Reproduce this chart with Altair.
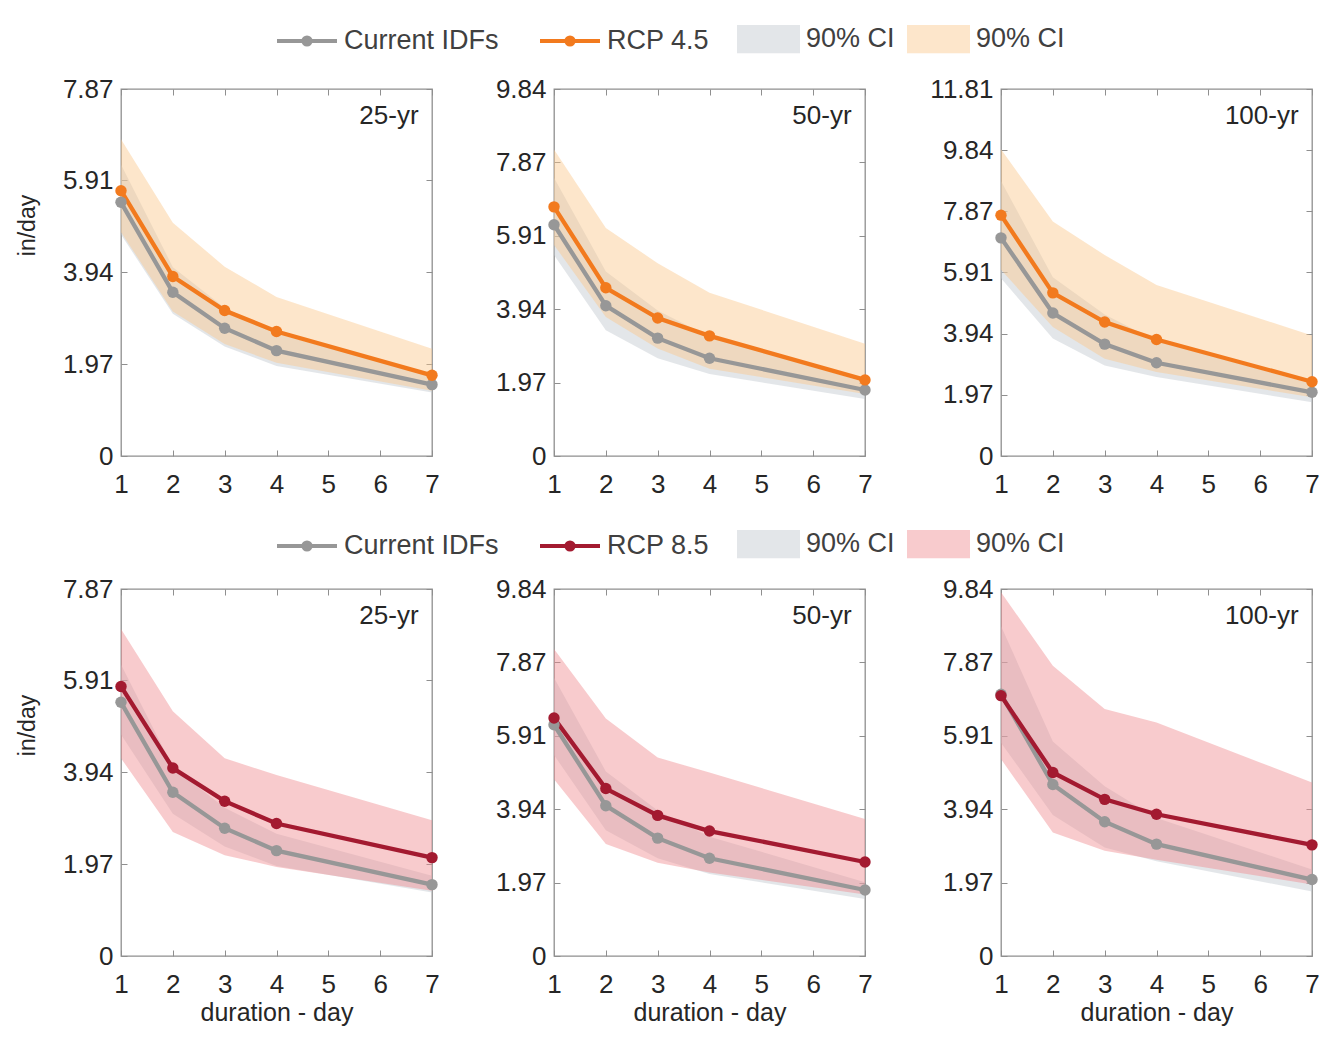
import altair as alt
import pandas as pd

# ---------------- data ----------------
durations = [1, 2, 3, 4, 7]

# Current IDFs (in/day) and 90% CI
cur_25 = [5.44, 3.51, 2.74, 2.26, 1.53]
cur_25_lo = [4.75, 3.05, 2.35, 1.93, 1.36]
cur_25_hi = [6.25, 4.05, 3.18, 2.62, 1.72]
cur_50 = [6.20, 4.03, 3.16, 2.62, 1.77]
cur_50_lo = [5.39, 3.37, 2.62, 2.20, 1.53]
cur_50_hi = [7.46, 4.95, 3.90, 3.20, 1.98]
cur_100 = [7.02, 4.60, 3.60, 3.00, 2.05]
cur_100_lo = [5.72, 3.78, 2.91, 2.54, 1.73]
cur_100_hi = [8.85, 5.75, 4.55, 3.70, 2.32]

# RCP 4.5
rcp45_25 = [5.69, 3.85, 3.12, 2.67, 1.73]
rcp45_25_lo = [4.80, 3.10, 2.40, 2.00, 1.40]
rcp45_25_hi = [6.79, 5.00, 4.06, 3.41, 2.30]
rcp45_50 = [6.68, 4.51, 3.70, 3.22, 2.04]
rcp45_50_lo = [5.66, 3.73, 2.88, 2.34, 1.66]
rcp45_50_hi = [8.22, 6.11, 5.17, 4.38, 3.01]
rcp45_100 = [7.75, 5.25, 4.31, 3.75, 2.39]
rcp45_100_lo = [5.99, 4.15, 3.13, 2.70, 1.89]
rcp45_100_hi = [9.87, 7.55, 6.47, 5.50, 3.88]

# RCP 8.5
rcp85_25 = [5.78, 4.03, 3.32, 2.84, 2.11]
rcp85_25_lo = [4.24, 2.66, 2.16, 1.91, 1.40]
rcp85_25_hi = [7.01, 5.25, 4.24, 3.88, 2.91]
rcp85_50 = [6.38, 4.49, 3.77, 3.35, 2.52]
rcp85_50_lo = [4.74, 3.00, 2.50, 2.24, 1.65]
rcp85_50_hi = [8.23, 6.37, 5.32, 4.92, 3.67]
rcp85_100 = [6.98, 4.92, 4.20, 3.80, 2.98]
rcp85_100_lo = [5.28, 3.31, 2.82, 2.58, 1.92]
rcp85_100_hi = [9.75, 7.78, 6.62, 6.26, 4.65]

x_ticks = [1, 2, 3, 4, 5, 6, 7]
y_ticks_25 = [0, 1.97, 3.94, 5.91, 7.87]
y_ticks_50 = [0, 1.97, 3.94, 5.91, 7.87, 9.84]
y_ticks_100 = [0, 1.97, 3.94, 5.91, 7.87, 9.84, 11.81]

# ---------------- styles ----------------
FONT = "Liberation Sans"
TXT = "#262626"
LEG_TXT = "#404040"
FRAME = "#8f8f8f"
GRAY_LINE = "#979797"
ORANGE = "#f27a1e"
RED = "#a31a30"
GRAY_BAND = "#c1c7ce"
ORANGE_BAND = "#fac88c"
RED_BAND = "#f08c91"
BAND_OP = 0.45
W, H = 311, 367

LINE_SYM = "M-1,0L1,0M-0.12,0A0.12,0.12,0,1,1,0.12,0A0.12,0.12,0,1,1,-0.12,0Z"
RECT_SYM = "M-1,-0.45L1,-0.45L1,0.45L-1,0.45Z"

LABEL_EXPR = "datum.value == 0 ? '0' : format(datum.value, '.2f')"


def make_legends(center):
    line_legend = alt.Legend(
        orient="none", legendX=154, legendY=center - 30, direction="horizontal",
        title=None, symbolType=LINE_SYM, symbolSize=3600, symbolStrokeWidth=4,
        labelFontSize=27, labelFont=FONT, labelColor=LEG_TXT, labelOffset=5,
        columnPadding=33, symbolOpacity=1,
    )
    fill_legend = alt.Legend(
        orient="none", legendX=616, legendY=center - 31.5, direction="horizontal",
        title=None, symbolType=RECT_SYM, symbolSize=3969, symbolStrokeWidth=0,
        labelFontSize=27, labelFont=FONT, labelColor=LEG_TXT, labelOffset=6,
        columnPadding=12, symbolOpacity=BAND_OP, labelExpr="'90% CI'",
    )
    return line_legend, fill_legend


def inner_axis(orient, values, extent):
    return alt.Axis(
        orient=orient, offset=-extent, values=values, labels=False, domain=False,
        grid=False, ticks=True, tickSize=6, tickColor=FRAME, tickWidth=1,
        minExtent=0, title=None,
    )


def panel(cur, cur_lo, cur_hi, fut, fut_lo, fut_hi, rcp, line_col, band_col,
          ymax, yticks, title, first_col, bottom_row, y_ext, legends):
    line_legend, fill_legend = legends
    df = pd.DataFrame({
        "d": durations, "cur": cur, "cur_lo": cur_lo, "cur_hi": cur_hi,
        "fut": fut, "fut_lo": fut_lo, "fut_hi": fut_hi,
    })
    base = alt.Chart(df).transform_calculate(
        cs="'Current IDFs'", fs="'" + rcp + "'", cb="'cur'", fb="'fut'"
    )
    xsc = alt.Scale(domain=[1, 7], nice=False, zero=False)
    ysc = alt.Scale(domain=[0, ymax], nice=False, zero=False)
    color_scale = alt.Scale(domain=["Current IDFs", rcp], range=[GRAY_LINE, line_col])
    fill_scale = alt.Scale(domain=["cur", "fut"], range=[GRAY_BAND, band_col])

    x_lab = alt.Axis(
        values=x_ticks, ticks=False, tickSize=0, domain=False, grid=False,
        labelPadding=15, labelFontSize=26, labelFont=FONT, labelColor=TXT,
        labelFlush=False, titleFontSize=25, titleFont=FONT,
        titleFontWeight="normal", titleColor=TXT, titlePadding=3,
    )
    y_lab = alt.Axis(
        values=yticks, ticks=False, tickSize=0, domain=False, grid=False,
        labelPadding=8, labelFontSize=26, labelFont=FONT, labelColor=TXT,
        labelFlush=False, labelExpr=LABEL_EXPR, minExtent=y_ext,
        titleFontSize=23, titleFont=FONT, titleFontWeight="normal",
        titleColor=TXT, titlePadding=23, titleY=136,
    )
    x_title = "duration - day" if bottom_row else None
    y_title = "in/day" if first_col else None

    gray_area = base.mark_area(opacity=BAND_OP).encode(
        x=alt.X("d:Q", scale=xsc, axis=x_lab, title=x_title),
        y=alt.Y("cur_lo:Q", scale=ysc, axis=y_lab, title=y_title),
        y2="cur_hi:Q",
        fill=alt.Fill("cb:N", scale=fill_scale, legend=fill_legend),
    )
    fut_area = base.mark_area(opacity=BAND_OP).encode(
        x=alt.X("d:Q", scale=xsc, axis=inner_axis("top", x_ticks, H)),
        y=alt.Y("fut_lo:Q", scale=ysc, axis=inner_axis("right", yticks, W)),
        y2="fut_hi:Q",
        fill=alt.Fill("fb:N", scale=fill_scale, legend=fill_legend),
    )
    gray_line = base.mark_line(strokeWidth=4.3).encode(
        x=alt.X("d:Q", scale=xsc, axis=inner_axis("bottom", x_ticks, H)),
        y=alt.Y("cur:Q", scale=ysc, axis=inner_axis("left", yticks, W)),
        color=alt.Color("cs:N", scale=color_scale, legend=line_legend),
    )
    fut_line = base.mark_line(strokeWidth=4.3).encode(
        x=alt.X("d:Q", scale=xsc, axis=None),
        y=alt.Y("fut:Q", scale=ysc, axis=None),
        color=alt.Color("fs:N", scale=color_scale, legend=line_legend),
    )
    gray_pts = base.mark_circle(size=130, opacity=1).encode(
        x=alt.X("d:Q", scale=xsc, axis=None),
        y=alt.Y("cur:Q", scale=ysc, axis=None),
        color=alt.Color("cs:N", scale=color_scale, legend=line_legend),
    )
    fut_pts = base.mark_circle(size=130, opacity=1).encode(
        x=alt.X("d:Q", scale=xsc, axis=None),
        y=alt.Y("fut:Q", scale=ysc, axis=None),
        color=alt.Color("fs:N", scale=color_scale, legend=line_legend),
    )
    return alt.layer(
        gray_area, fut_area, gray_line, fut_line, gray_pts, fut_pts
    ).resolve_axis(x="independent", y="independent").properties(
        width=W, height=H,
        title=alt.TitleParams(
            text=title, anchor="end", orient="top", offset=-53, dx=-22,
            fontSize=26, font=FONT, fontWeight="normal", color=TXT,
        ),
    )


leg1 = make_legends(-50)
row1 = alt.hconcat(
    panel(cur_25, cur_25_lo, cur_25_hi, rcp45_25, rcp45_25_lo, rcp45_25_hi,
          "RCP 4.5", ORANGE, ORANGE_BAND, 7.87, y_ticks_25, "25-yr", True, False, 59, leg1),
    panel(cur_50, cur_50_lo, cur_50_hi, rcp45_50, rcp45_50_lo, rcp45_50_hi,
          "RCP 4.5", ORANGE, ORANGE_BAND, 9.84, y_ticks_50, "50-yr", False, False, 59, leg1),
    panel(cur_100, cur_100_lo, cur_100_hi, rcp45_100, rcp45_100_lo, rcp45_100_hi,
          "RCP 4.5", ORANGE, ORANGE_BAND, 11.81, y_ticks_100, "100-yr", False, False, 73, leg1),
    spacing=52,
)

leg2 = make_legends(-45)
row2 = alt.hconcat(
    panel(cur_25, cur_25_lo, cur_25_hi, rcp85_25, rcp85_25_lo, rcp85_25_hi,
          "RCP 8.5", RED, RED_BAND, 7.87, y_ticks_25, "25-yr", True, True, 59, leg2),
    panel(cur_50, cur_50_lo, cur_50_hi, rcp85_50, rcp85_50_lo, rcp85_50_hi,
          "RCP 8.5", RED, RED_BAND, 9.84, y_ticks_50, "50-yr", False, True, 59, leg2),
    panel(cur_100, cur_100_lo, cur_100_hi, rcp85_100, rcp85_100_lo, rcp85_100_hi,
          "RCP 8.5", RED, RED_BAND, 9.84, y_ticks_50, "100-yr", False, True, 73, leg2),
    spacing=52,
)

chart = alt.vconcat(row1, row2, spacing=14).resolve_scale(
    color="independent", fill="independent"
).properties(
    padding={"left": 15, "top": 7, "right": 5, "bottom": 5},
    background="white",
).configure_view(stroke=FRAME, strokeWidth=1.3)

chart.save("out.html", embed_options={"renderer": "svg", "actions": False})
